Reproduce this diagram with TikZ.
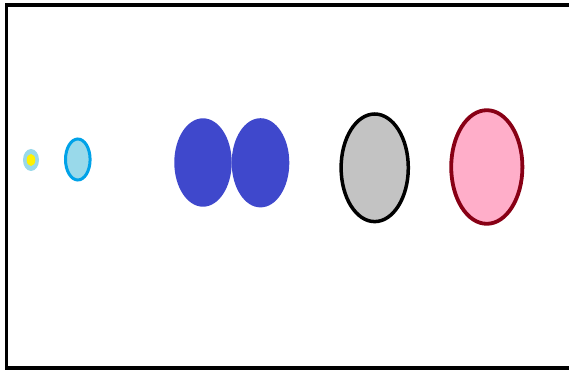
\documentclass[tikz,border=0pt]{standalone}
\usepackage{tikz}

\definecolor{paleblue}{RGB}{153,217,234}
\definecolor{skyblue}{RGB}{0,162,232}
\definecolor{indigo}{RGB}{63,72,204}
\definecolor{lightgray}{RGB}{195,195,195}
\definecolor{rosepink}{RGB}{255,174,201}
\definecolor{darkred}{RGB}{136,0,21}
\definecolor{brightyellow}{RGB}{255,242,0}

\begin{document}
\begin{tikzpicture}[x=1pt,y=-1pt,
  cell/.style={fill=indigo},
  frame/.style={draw=black,line width=3.5pt}]
\useasboundingbox (0,0) rectangle (569,371);
\clip (0,0) rectangle (569,371);
\draw[frame] (6.5,5) rectangle (580,368);
% tiny dot and small cell
\fill[paleblue] (31,160) ellipse (8 and 11);
\fill[brightyellow] (31,160) ellipse (4.3 and 6);
\draw[fill=paleblue,draw=skyblue,line width=3pt] (77.8,159.5) ellipse (12.3 and 20.5);
% dividing pair
\fill[cell] (203,162.5) ellipse (28.7 and 44.2);
\fill[cell] (260.5,162.8) ellipse (28.8 and 44.6);
% large cells
\draw[fill=lightgray,draw=black,line width=3.5pt] (374.7,167.8) ellipse (33.6 and 53.8);
\draw[fill=rosepink,draw=darkred,line width=3.8pt] (486.8,167) ellipse (35.6 and 56.8);
\end{tikzpicture}
\end{document}
